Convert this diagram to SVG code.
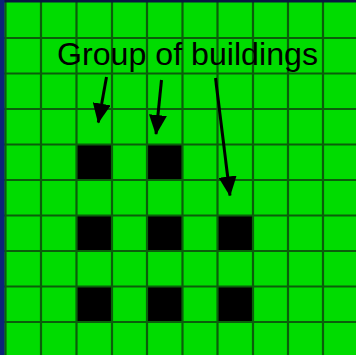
<svg xmlns="http://www.w3.org/2000/svg" width="356" height="355" viewBox="0 0 356 355">
<style>
.grid line{stroke:#0b5e0b;stroke-width:2.2}
.bld{fill:#000}
.arrow{stroke:#000;stroke-width:3;fill:none;marker-end:url(#ah)}
.label{font-family:"Liberation Sans",Arial,sans-serif;font-size:31px;fill:#000}
</style>
<defs>
<marker id="ah" viewBox="0 0 20 18" refX="19" refY="9" markerWidth="20" markerHeight="18" markerUnits="userSpaceOnUse" orient="auto">
<path d="M0,0 L20,9 L0,18 z" fill="#000"/>
</marker>
</defs>
<rect id="field" x="0" y="0" width="356" height="355" fill="#00dc00"/>
<g id="buildings">
<rect id="b1" class="bld" x="76.5" y="144.5" width="35.5" height="35.5"/>
<rect id="b2" class="bld" x="147" y="144.5" width="35.5" height="35.5"/>
<rect id="b3" class="bld" x="76.5" y="215.5" width="35.5" height="35.5"/>
<rect id="b4" class="bld" x="147" y="215.5" width="35.5" height="35.5"/>
<rect id="b5" class="bld" x="217.5" y="215.5" width="35.5" height="35.5"/>
<rect id="b6" class="bld" x="76.5" y="286.5" width="35.5" height="35.5"/>
<rect id="b7" class="bld" x="147" y="286.5" width="35.5" height="35.5"/>
<rect id="b8" class="bld" x="217.5" y="286.5" width="35.5" height="35.5"/>
</g>
<g class="grid" id="grid">
<line x1="5.5" y1="0" x2="5.5" y2="355"/>
<line x1="41" y1="0" x2="41" y2="355"/>
<line x1="76.5" y1="0" x2="76.5" y2="355"/>
<line x1="112" y1="0" x2="112" y2="355"/>
<line x1="147" y1="0" x2="147" y2="355"/>
<line x1="182.5" y1="0" x2="182.5" y2="355"/>
<line x1="217.5" y1="0" x2="217.5" y2="355"/>
<line x1="253" y1="0" x2="253" y2="355"/>
<line x1="288" y1="0" x2="288" y2="355"/>
<line x1="323" y1="0" x2="323" y2="355"/>
<line x1="0" y1="38" x2="356" y2="38"/>
<line x1="0" y1="73.5" x2="356" y2="73.5"/>
<line x1="0" y1="109" x2="356" y2="109"/>
<line x1="0" y1="144.5" x2="356" y2="144.5"/>
<line x1="0" y1="180" x2="356" y2="180"/>
<line x1="0" y1="215.5" x2="356" y2="215.5"/>
<line x1="0" y1="251" x2="356" y2="251"/>
<line x1="0" y1="286.5" x2="356" y2="286.5"/>
<line x1="0" y1="322" x2="356" y2="322"/>
</g>
<rect x="0" y="0" width="356" height="2.5" fill="#0a1640"/>
<rect x="0" y="0" width="4.5" height="355" fill="#0c2378"/>
<text id="title" class="label" x="57" y="65" textLength="261" lengthAdjust="spacingAndGlyphs">Group of buildings</text>
<g id="connectors">
<line class="arrow" x1="106.5" y1="77" x2="98.3" y2="122.5"/>
<line class="arrow" x1="161.5" y1="80" x2="156" y2="134"/>
<line class="arrow" x1="215.5" y1="78" x2="230" y2="195.5"/>
</g>
</svg>
